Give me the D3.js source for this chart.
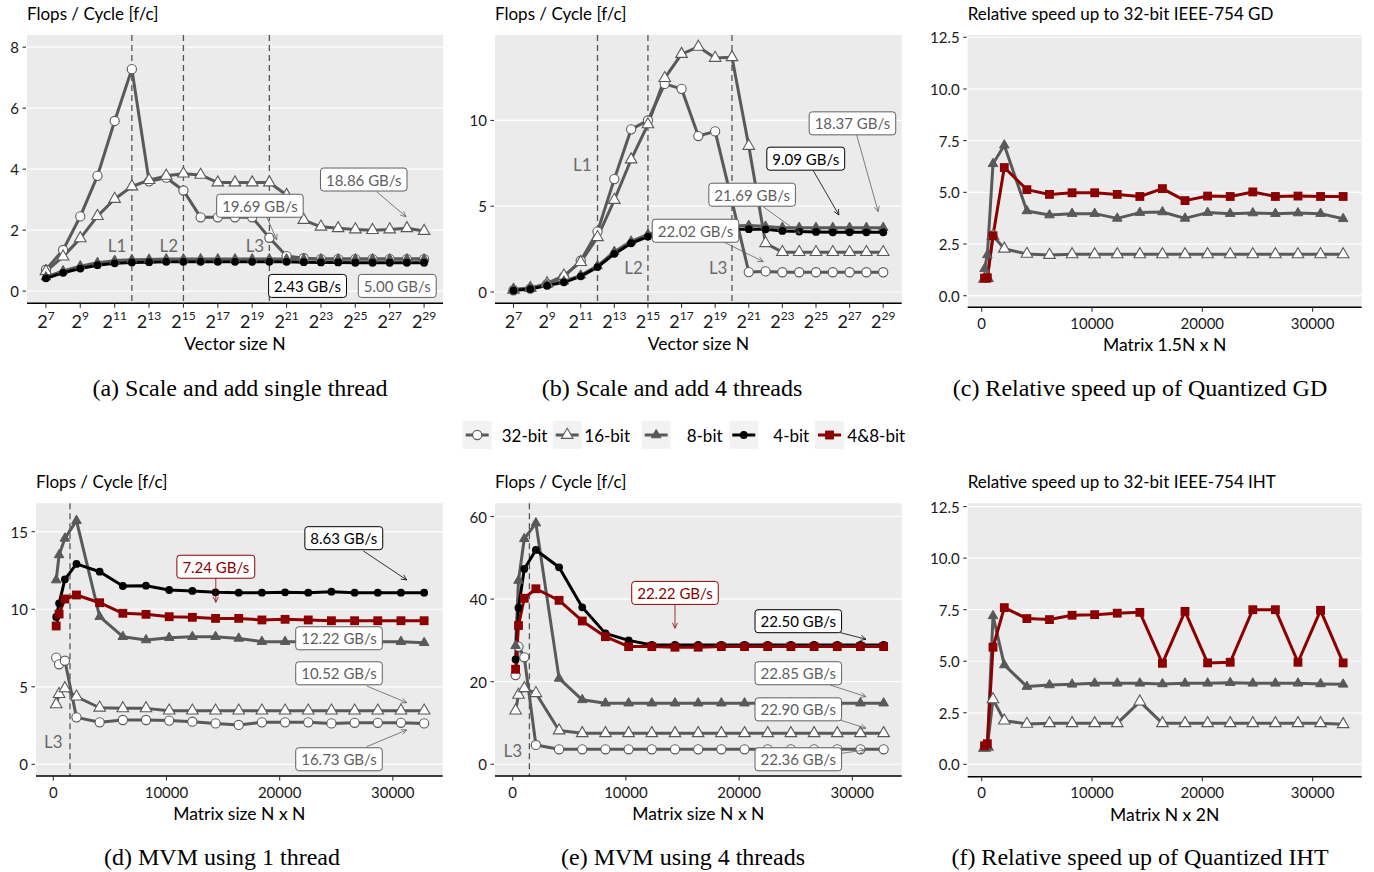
<!DOCTYPE html>
<html><head><meta charset="utf-8">
<script src="https://cdn.jsdelivr.net/npm/d3@7"></script>
<style>body{margin:0;background:#fff}svg{display:block}text{font-family:Lato,"Open Sans",sans-serif}</style>
</head><body><svg id="c" width="1374" height="872"></svg>
<script>
// ---------------- DATA ----------------
const vecExp = [7,8,9,10,11,12,13,14,15,16,17,18,19,20,21,22,23,24,25,26,27,28,29];
const vecTickExp = [7,9,11,13,15,17,19,21,23,25,27,29];
const matN = [256,512,1024,2048,4096,6144,8192,10240,12288,14336,16384,18432,20480,22528,24576,26624,28672,30720,32768];
const matTicks = [0,10000,20000,30000];

// (a) scale and add, single thread
const a32 = [0.7,1.35,2.45,3.78,5.58,7.28,3.6,3.72,3.3,2.42,2.42,2.42,2.42,1.75,1.15,1.08,1.05,1.05,1.05,1.05,1.05,1.05,1.05];
const a16 = [0.65,1.13,1.73,2.46,3.02,3.43,3.64,3.78,3.85,3.81,3.56,3.56,3.56,3.56,3.15,2.33,2.11,2.06,2.02,2.0,2.02,2.06,1.97];
const a8  = [0.46,0.66,0.82,0.93,1.0,1.03,1.04,1.05,1.05,1.05,1.05,1.05,1.05,1.05,1.05,1.05,1.05,1.05,1.05,1.05,1.05,1.05,1.05];
const a4  = [0.42,0.6,0.74,0.85,0.91,0.94,0.95,0.96,0.96,0.96,0.96,0.96,0.96,0.96,0.96,0.95,0.94,0.94,0.93,0.93,0.93,0.93,0.93];
// (b) scale and add, 4 threads
const b32 = [0.1,0.2,0.45,0.9,1.82,3.52,6.58,9.48,10.0,12.13,11.84,9.09,9.36,5.3,1.16,1.2,1.15,1.15,1.15,1.15,1.15,1.15,1.15];
const b16 = [0.12,0.22,0.5,0.95,1.74,3.19,5.36,7.72,9.77,12.46,13.87,14.29,13.64,13.68,8.51,2.84,2.32,2.32,2.32,2.32,2.32,2.32,2.32];
const b8  = [0.15,0.25,0.42,0.62,0.97,1.52,2.35,2.95,3.35,3.6,3.7,3.75,3.8,3.85,3.87,3.82,3.75,3.75,3.75,3.75,3.75,3.75,3.75];
const b4  = [0.08,0.17,0.37,0.56,0.91,1.45,2.22,2.84,3.23,3.4,3.5,3.55,3.6,3.65,3.66,3.65,3.56,3.52,3.5,3.48,3.48,3.48,3.48];
// (c) relative speed up GD
const c16 = [0.82,0.85,2.9,2.27,2.02,1.97,2.0,2.0,2.0,2.0,2.0,2.0,2.0,2.0,2.0,2.0,2.0,2.0,2.0];
const c8  = [1.3,1.97,6.38,7.28,4.1,3.9,3.97,3.97,3.74,4.02,4.05,3.74,4.02,3.97,4.0,3.97,4.0,3.97,3.72];
const c48 = [0.85,0.87,2.9,6.2,5.13,4.9,4.98,4.98,4.9,4.8,5.18,4.6,4.82,4.8,5.02,4.8,4.82,4.8,4.8];
// (d) MVM 1 thread
const d32 = [6.88,6.45,6.68,3.03,2.71,2.86,2.86,2.82,2.75,2.64,2.54,2.71,2.71,2.71,2.64,2.68,2.68,2.68,2.64];
const d16 = [3.87,4.53,4.9,4.36,3.65,3.61,3.61,3.46,3.46,3.46,3.46,3.46,3.46,3.46,3.46,3.46,3.46,3.46,3.46];
const d8  = [11.88,13.5,14.57,15.71,9.52,8.23,8.02,8.17,8.23,8.23,8.12,7.91,7.91,7.91,7.91,7.91,7.91,7.91,7.84];
const d4  = [9.5,10.38,11.93,12.92,12.42,11.5,11.52,11.24,11.18,11.09,11.07,11.07,11.09,11.07,11.13,11.07,11.07,11.07,11.07];
const d48 = [8.92,9.69,10.66,10.92,10.42,9.74,9.67,9.52,9.48,9.41,9.41,9.31,9.35,9.31,9.26,9.26,9.26,9.26,9.26];
// (e) MVM 4 threads
const e32 = [21.6,28.5,25.9,4.68,3.63,3.63,3.63,3.63,3.63,3.63,3.63,3.63,3.63,3.63,3.63,3.63,3.63,3.63,3.63];
const e16 = [13.0,16.8,18.4,17.2,8.16,7.5,7.5,7.5,7.5,7.5,7.5,7.5,7.5,7.5,7.5,7.5,7.5,7.5,7.5];
const e8  = [28.7,44.5,54.6,58.4,20.8,15.6,14.8,14.8,14.8,14.8,14.8,14.8,14.8,14.8,14.8,14.8,14.8,14.8,14.8];
const e4  = [25.4,37.9,47.3,51.9,47.7,38.0,31.7,30.0,28.9,28.9,28.9,28.9,28.9,28.9,28.9,28.9,28.9,28.9,28.9];
const e48 = [23.0,33.6,40.2,42.5,39.7,34.7,30.9,28.5,28.5,28.35,28.35,28.5,28.5,28.5,28.5,28.5,28.5,28.5,28.5];
// (f) relative speed up IHT
const f16 = [0.8,0.85,3.15,2.12,1.96,1.99,1.99,1.99,1.99,3.04,1.99,1.99,1.99,1.99,1.99,1.99,1.99,1.99,1.94];
const f8  = [0.78,0.85,7.2,4.82,3.77,3.85,3.88,3.93,3.93,3.93,3.9,3.93,3.93,3.96,3.93,3.93,3.93,3.9,3.88];
const f48 = [0.9,1.0,5.68,7.6,7.07,7.02,7.23,7.26,7.33,7.37,4.9,7.42,4.92,4.95,7.5,7.5,4.95,7.47,4.92];

const legendNames = ['32-bit','16-bit','8-bit','4-bit','4&8-bit'];

// annotations (data coordinates; x for (a),(b) in log2 exponent)
const annA = [
  {t:'18.86 GB/s', x:25.49, y:3.66, c:'gray', ar:[26.24,3.26,27.95,2.44]},
  {t:'19.69 GB/s', x:19.45, y:2.8, c:'gray', ar:[19.84,2.44,20.43,1.68]},
  {t:'2.43 GB/s', x:22.22, y:0.17, c:'black'},
  {t:'5.00 GB/s', x:27.44, y:0.17, c:'gray'}];
const annB = [
  {t:'18.37 GB/s', x:27.17, y:9.83, c:'gray', ar:[27.42,9.15,28.7,4.68]},
  {t:'9.09 GB/s', x:24.39, y:7.77, c:'black', ar:[24.84,7.07,26.36,4.49]},
  {t:'21.69 GB/s', x:21.2, y:5.67, c:'gray', ar:[21.86,4.97,24.04,3.42]},
  {t:'22.02 GB/s', x:17.83, y:3.57, c:'gray', ar:[19.48,2.93,21.86,1.77]}];
const annD = [
  {t:'8.63 GB/s', x:25669, y:14.58, c:'black', ar:[27393,13.76,31227,11.89]},
  {t:'7.24 GB/s', x:14359, y:12.74, c:'red', ar:[14359,11.99,14359,10.45]},
  {t:'12.22 GB/s', x:25245, y:8.13, c:'gray'},
  {t:'10.52 GB/s', x:25245, y:5.87, c:'gray', ar:[27693,5.05,31227,3.98]},
  {t:'16.73 GB/s', x:25245, y:0.33, c:'gray', ar:[27693,1.14,31227,2.22]}];
const annE = [
  {t:'22.22 GB/s', x:14337, y:41.5, c:'red', ar:[14337,38.6,14337,32.95]},
  {t:'22.50 GB/s', x:25229, y:34.65, c:'black', ar:[28913,31.9,31210,30.28]},
  {t:'22.85 GB/s', x:25229, y:22.04, c:'gray', ar:[28030,19.2,31210,16.37]},
  {t:'22.90 GB/s', x:25229, y:13.3, c:'gray', ar:[28913,10.73,31210,8.72]},
  {t:'22.36 GB/s', x:25229, y:1.21, c:'gray', ar:[29063,2.66,31121,3.46]}];
const cacheA = [{t:'L1', v:12, lx:11.14, ly:1.49},{t:'L2', v:15, lx:14.15, ly:1.49},{t:'L3', v:20, lx:19.16, ly:1.49}];
const cacheB = [{t:'L1', v:12, lx:11.1, ly:7.45},{t:'L2', v:15, lx:14.14, ly:1.41},{t:'L3', v:20, lx:19.18, ly:1.41}];
const cacheD = [{t:'L3', v:1475, lx:0, ly:1.46}];
const cacheE = [{t:'L3', v:1475, lx:0, ly:3.39}];

// ---------------- STYLE / LAYOUT ----------------
const GRAY = '#595959', RED = '#8b0000';
const colMap = {gray:'#5f5f5f', black:'#000', red:RED};
const style = {
  '32-bit':{color:GRAY, m:'circle'},
  '16-bit':{color:GRAY, m:'tri'},
  '8-bit':{color:GRAY, m:'trifill'},
  '4-bit':{color:'#000', m:'dot'},
  '4&8-bit':{color:RED, m:'square'}
};
const svg = d3.select('#c');

function drawMarker(g, m, cx, cy){
  if(m==='circle') g.append('circle').attr('cx',cx).attr('cy',cy).attr('r',4.6).attr('fill','#fff').attr('stroke',GRAY).attr('stroke-width',1.1);
  else if(m==='dot') g.append('circle').attr('cx',cx).attr('cy',cy).attr('r',3.9).attr('fill','#000');
  else if(m==='tri') g.append('path').attr('d',d3.symbol(d3.symbolTriangle,58)()).attr('transform',`translate(${cx},${cy})`).attr('fill','#fff').attr('stroke',GRAY).attr('stroke-width',1.1);
  else if(m==='trifill') g.append('path').attr('d',d3.symbol(d3.symbolTriangle,40)()).attr('transform',`translate(${cx},${cy})`).attr('fill',GRAY).attr('stroke',GRAY).attr('stroke-width',1);
  else if(m==='square') g.append('path').attr('d',d3.symbol(d3.symbolSquare,78)()).attr('transform',`translate(${cx},${cy})`).attr('fill',RED);
}

function arrow(g,x1,y1,x2,y2,color){
  const ang=Math.atan2(y2-y1,x2-x1), L=6, a=Math.PI/7;
  const p=`M${x1},${y1}L${x2},${y2}M${x2-L*Math.cos(ang-a)},${y2-L*Math.sin(ang-a)}L${x2},${y2}L${x2-L*Math.cos(ang+a)},${y2-L*Math.sin(ang+a)}`;
  g.append('path').attr('d',p).attr('fill','none').attr('stroke',color).attr('stroke-width',0.8);
}

function panel(cfg){
  const g = svg.append('g');
  const x = cfg.log ? d3.scaleLog().base(2).domain(cfg.xDom).range([cfg.x0,cfg.x1])
                    : d3.scaleLinear().domain(cfg.xDom).range([cfg.x0,cfg.x1]);
  const y = d3.scaleLinear().domain(cfg.yDom).range([cfg.y1,cfg.y0]);
  const X = v => cfg.log ? x(Math.pow(2,v)) : x(v);
  g.append('rect').attr('x',cfg.x0).attr('y',cfg.y0).attr('width',cfg.x1-cfg.x0).attr('height',cfg.y1-cfg.y0).attr('fill','#ebebeb');
  g.selectAll('.gl').data(cfg.yTicks).join('line').attr('x1',cfg.x0).attr('x2',cfg.x1)
    .attr('y1',d=>y(d)).attr('y2',d=>y(d)).attr('stroke','#fff').attr('stroke-width',1.2);
  (cfg.cache||[]).forEach(c=>{
    g.append('line').attr('x1',X(c.v)).attr('x2',X(c.v)).attr('y1',cfg.y0).attr('y2',cfg.y1)
      .attr('stroke','#555').attr('stroke-width',1.3).attr('stroke-dasharray','6,4');
    g.append('text').attr('x',X(c.lx)).attr('y',y(c.ly)).attr('text-anchor','middle').attr('dominant-baseline','central')
      .attr('font-size',17).attr('fill','#6a6a6a').text(c.t);
  });
  const xs = cfg.xs;
  cfg.series.forEach(s=>{
    const line = d3.line().x((d,i)=>X(xs[i])).y(d=>y(d));
    g.append('path').attr('d',line(s.v)).attr('fill','none').attr('stroke',style[s.n].color)
      .attr('stroke-width',3).attr('stroke-linejoin','round');
  });
  cfg.series.forEach(s=>{
    s.v.forEach((d,i)=>drawMarker(g, style[s.n].m, X(xs[i]), y(d)));
  });
  (cfg.ann||[]).forEach(a=>{
    const col = colMap[a.c];
    if(a.ar) arrow(g, X(a.ar[0]), y(a.ar[1]), X(a.ar[2]), y(a.ar[3]), col);
    const gg = g.append('g');
    const t = gg.append('text').attr('x',X(a.x)).attr('y',y(a.y)).attr('text-anchor','middle').attr('dominant-baseline','central')
      .attr('font-size',15).attr('fill',col).text(a.t);
    const bb = t.node().getBBox();
    gg.insert('rect','text').attr('x',bb.x-5.5).attr('y',y(a.y)-11.5).attr('width',bb.width+11).attr('height',23)
      .attr('rx',3).attr('fill','#fff').attr('stroke',col).attr('stroke-width',1);
  });
  g.append('line').attr('x1',cfg.x0).attr('x2',cfg.x1).attr('y1',cfg.y1).attr('y2',cfg.y1).attr('stroke','#000').attr('stroke-width',1.6);
  cfg.yTicks.forEach(v=>{
    g.append('line').attr('x1',cfg.x0-4.5).attr('x2',cfg.x0-1).attr('y1',y(v)).attr('y2',y(v)).attr('stroke','#333').attr('stroke-width',1.1);
    g.append('text').attr('x',cfg.x0-8).attr('y',y(v)).attr('text-anchor','end').attr('dominant-baseline','central')
      .attr('font-size',15).attr('fill','#1a1a1a').text(cfg.yFmt ? cfg.yFmt(v) : v);
  });
  cfg.xTicks.forEach(v=>{
    g.append('line').attr('x1',X(v)).attr('x2',X(v)).attr('y1',cfg.y1).attr('y2',cfg.y1+4.5).attr('stroke','#333').attr('stroke-width',1.1);
    if(cfg.log){
      const t = g.append('text').attr('x',X(v)).attr('y',cfg.y1+25).attr('text-anchor','middle').attr('fill','#1a1a1a').attr('font-size',18);
      t.append('tspan').text('2');
      t.append('tspan').attr('dy',-8).attr('font-size',12).text(v);
    } else {
      g.append('text').attr('x',X(v)).attr('y',cfg.y1+21.5).attr('text-anchor','middle').attr('fill','#1a1a1a').attr('font-size',15).text(v);
    }
  });
  g.append('text').attr('x',cfg.x0).attr('y',cfg.y0-15.5).attr('font-size',17).attr('fill','#000').text(cfg.title);
  g.append('text').attr('x',(cfg.x0+cfg.x1)/2).attr('y',cfg.y1+(cfg.log?47:44)).attr('text-anchor','middle').attr('font-size',17.5).attr('fill','#000').text(cfg.xlab);
  g.append('text').attr('x',cfg.capX).attr('y',cfg.capY).attr('text-anchor','middle').attr('font-size',24)
    .style('font-family','"Liberation Serif","Times New Roman",serif').attr('fill','#000').text(cfg.cap);
}

const FPC = 'Flops / Cycle [f/c]';
const f1 = d3.format('.1f');
panel({log:true, x0:27,x1:443,y0:35,y1:303.3, xDom:[Math.pow(2,5.9),Math.pow(2,30.1)], yDom:[-0.4,8.4],
  xs:vecExp, xTicks:vecTickExp, yTicks:[0,2,4,6,8], title:FPC, xlab:'Vector size N',
  cap:'(a) Scale and add single thread', capX:240, capY:396,
  series:[{n:'32-bit',v:a32},{n:'16-bit',v:a16},{n:'8-bit',v:a8},{n:'4-bit',v:a4}], ann:annA, cache:cacheA});
panel({log:true, x0:495,x1:901.7,y0:35,y1:303.3, xDom:[Math.pow(2,5.9),Math.pow(2,30.1)], yDom:[-0.66,14.98],
  xs:vecExp, xTicks:vecTickExp, yTicks:[0,5,10], title:FPC, xlab:'Vector size N',
  cap:'(b) Scale and add 4 threads', capX:672, capY:396,
  series:[{n:'32-bit',v:b32},{n:'16-bit',v:b16},{n:'8-bit',v:b8},{n:'4-bit',v:b4}], ann:annB, cache:cacheB});
panel({log:false, x0:967.7,x1:1361.7,y0:35,y1:307.3, xDom:[-1270,34450], yDom:[-0.56,12.61],
  xs:matN, xTicks:matTicks, yTicks:[0,2.5,5,7.5,10,12.5], yFmt:f1, title:'Relative speed up to 32-bit IEEE-754 GD', xlab:'Matrix 1.5N x N',
  cap:'(c) Relative speed up of Quantized GD', capX:1140, capY:396,
  series:[{n:'16-bit',v:c16},{n:'8-bit',v:c8},{n:'4&8-bit',v:c48}]});
panel({log:false, x0:36,x1:442.7,y0:503.3,y1:776, xDom:[-1529,34408], yDom:[-0.75,16.83],
  xs:matN, xTicks:matTicks, yTicks:[0,5,10,15], title:FPC, xlab:'Matrix size N x N',
  cap:'(d) MVM using 1 thread', capX:222, capY:865,
  series:[{n:'32-bit',v:d32},{n:'16-bit',v:d16},{n:'8-bit',v:d8},{n:'4-bit',v:d4},{n:'4&8-bit',v:d48}], ann:annD, cache:cacheD});
panel({log:false, x0:495,x1:901.7,y0:503.3,y1:776, xDom:[-1564,34364], yDom:[-2.84,63.2],
  xs:matN, xTicks:matTicks, yTicks:[0,20,40,60], title:FPC, xlab:'Matrix size N x N',
  cap:'(e) MVM using 4 threads', capX:683, capY:865,
  series:[{n:'32-bit',v:e32},{n:'16-bit',v:e16},{n:'8-bit',v:e8},{n:'4-bit',v:e4},{n:'4&8-bit',v:e48}], ann:annE, cache:cacheE});
panel({log:false, x0:967.7,x1:1361.7,y0:503.3,y1:776.7, xDom:[-1270,34450], yDom:[-0.6,12.66],
  xs:matN, xTicks:matTicks, yTicks:[0,2.5,5,7.5,10,12.5], yFmt:f1, title:'Relative speed up to 32-bit IEEE-754 IHT', xlab:'Matrix N x 2N',
  cap:'(f) Relative speed up of Quantized IHT', capX:1140, capY:865,
  series:[{n:'16-bit',v:f16},{n:'8-bit',v:f8},{n:'4&8-bit',v:f48}]});

// legend
const keyX = [462.7,552.7,641.7,729.3,815], txtX = [501.7,584.3,686.7,773.3,847.3];
const lg = svg.append('g');
legendNames.forEach((n,i)=>{
  lg.append('rect').attr('x',keyX[i]).attr('y',421).attr('width',29).attr('height',28).attr('fill','#f2f2f2');
  lg.append('line').attr('x1',keyX[i]+3).attr('x2',keyX[i]+26).attr('y1',435).attr('y2',435).attr('stroke',style[n].color).attr('stroke-width',3);
  drawMarker(lg, style[n].m, keyX[i]+14.5, 435);
  lg.append('text').attr('x',txtX[i]).attr('y',435).attr('dominant-baseline','central').attr('font-size',17).attr('fill','#000').text(n);
});
</script></body></html>
